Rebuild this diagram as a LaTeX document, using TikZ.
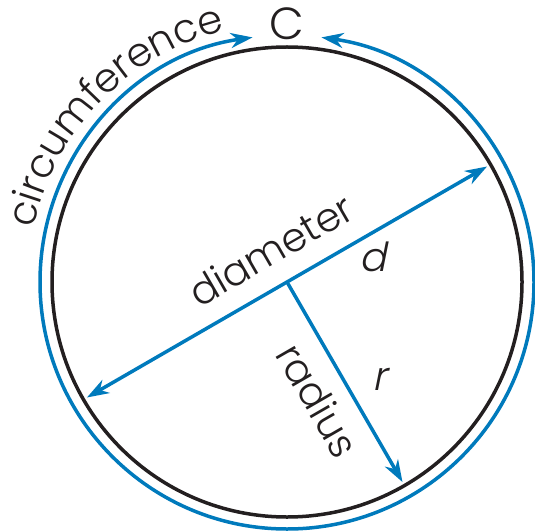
\documentclass[tikz,border=0pt]{standalone}
\usepackage{fontspec}
\setmainfont{Poppins Light}
\newfontfamily\slantfont[FakeSlant=0.2]{Poppins Light}
\usetikzlibrary{arrows.meta,decorations.text,calc}
\definecolor{cblue}{RGB}{0,122,188}
\definecolor{cblack}{RGB}{35,31,32}
\newcommand{\labfont}{\fontsize{40}{46}\selectfont}
\begin{document}
\begin{tikzpicture}[x=1pt,y=1pt,
  circ/.style={draw=cblack, line width=3.5pt},
  tip/.tip={Stealth[length=22pt,width=15pt,inset=7pt]},
  bluearr/.style={draw=cblue, line width=3.5pt, -tip},
  bluedbl/.style={draw=cblue, line width=3.5pt, tip-tip},
  lab/.style={text=cblack, font=\labfont, inner sep=0pt}]
\useasboundingbox (0,0) rectangle (535,531);
\coordinate (O) at (287,249);
\draw[circ] (O) circle[radius=235];
\draw[bluearr] ($(O)+(-90:247)$) arc[start angle=-90,end angle=82,radius=247];
\draw[bluearr] ($(O)+(270:247)$) arc[start angle=270,end angle=98,radius=247];
\coordinate (D1) at ($(O)+(30:231)$);
\coordinate (D2) at ($(O)+(210:231)$);
\coordinate (R1) at ($(O)+(-60:231)$);
\draw[bluedbl] (D2) -- (D1);
\draw[bluearr] (O) -- (R1);
\path[decorate, decoration={text along path, text={|\labfont\color{cblack}|circumference}, text align=center}]
  ($(O)+(168:259)$) arc[start angle=168,end angle=104,radius=259];
\node[lab, font=\fontsize{45}{50}\selectfont] (C) at (287,507) {C};
\node[lab, rotate=30, anchor=base] (dia) at ($(O)+(120:21)+(30:2)$) {diameter};
\node[lab] (d) at (373,274) {\slantfont d};
\node[lab, rotate=-60] (rad) at (318,131) {radius};
\node[lab] (r) at (380,152) {\slantfont r};
\end{tikzpicture}
\end{document}
